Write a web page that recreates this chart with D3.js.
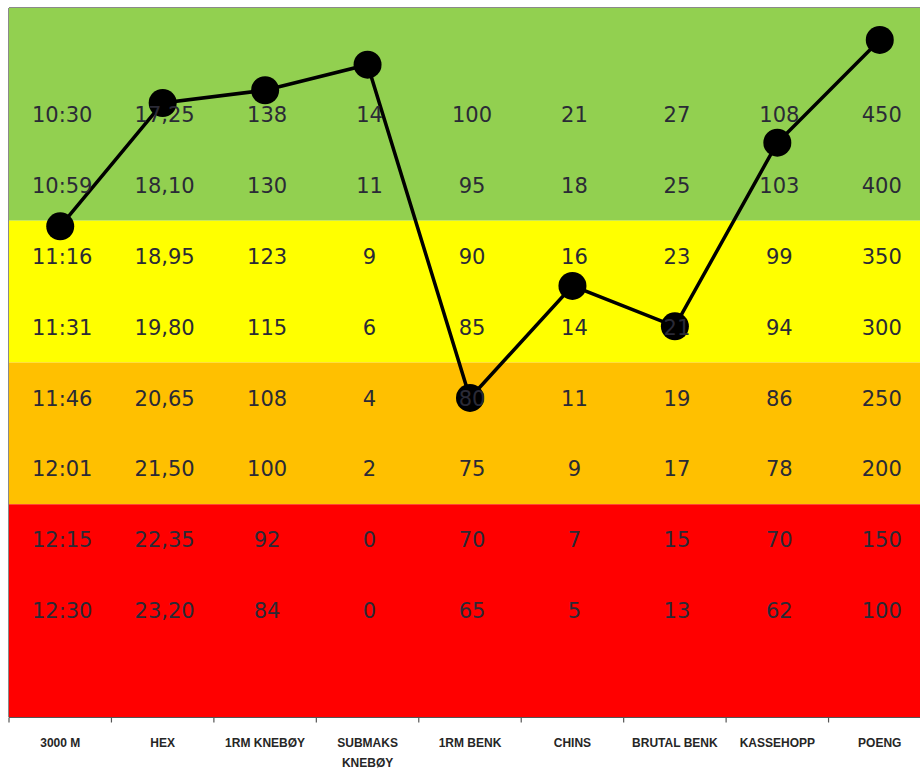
<!DOCTYPE html>
<html>
<head>
<meta charset="utf-8">
<script src="https://cdn.jsdelivr.net/npm/d3@7"></script>
<style>
  body { margin: 0; background: #fff; overflow: hidden; }
</style>
</head>
<body>
<svg id="chart"></svg>
<script>
// categories along the bottom
const categories = ["3000 M", "HEX", "1RM KNEBØY", "SUBMAKS KNEBØY", "1RM BENK", "CHINS", "BRUTAL BENK", "KASSEHOPP", "POENG"];

// score table, one column per category (top row first)
const col3000 = ["10:30", "10:59", "11:16", "11:31", "11:46", "12:01", "12:15", "12:30"];
const colHex = ["17,25", "18,10", "18,95", "19,80", "20,65", "21,50", "22,35", "23,20"];
const colKneboy = ["138", "130", "123", "115", "108", "100", "92", "84"];
const colSubmaks = ["14", "11", "9", "6", "4", "2", "0", "0"];
const colBenk = ["100", "95", "90", "85", "80", "75", "70", "65"];
const colChins = ["21", "18", "16", "14", "11", "9", "7", "5"];
const colBrutal = ["27", "25", "23", "21", "19", "17", "15", "13"];
const colKasse = ["108", "103", "99", "94", "86", "78", "70", "62"];
const colPoeng = ["450", "400", "350", "300", "250", "200", "150", "100"];
const columns = [col3000, colHex, colKneboy, colSubmaks, colBenk, colChins, colBrutal, colKasse, colPoeng];

// row levels of the table (top row = 8.5)
const rowLevels = [8.5, 7.5, 6.5, 5.5, 4.5, 3.5, 2.5, 1.5];

// colour zones on the level scale
const zones = [
    { from: 7, to: 10, color: "#92d050" },
    { from: 5, to: 7, color: "#ffff00" },
    { from: 3, to: 5, color: "#ffc000" },
    { from: 0, to: 3, color: "#ff0000" }
];

// result line, level per category
const results = [6.92, 8.66, 8.84, 9.2, 4.5, 6.08, 5.51, 8.1, 9.55];

const width = 920, height = 769;
const plot = { left: 9, right: 931, top: 8, bottom: 717 };

const svg = d3.select("#chart")
    .attr("width", width)
    .attr("height", height);

const x = d3.scaleBand()
    .domain(categories)
    .range([plot.left, plot.right])
    .padding(0);

const y = d3.scaleLinear()
    .domain([0, 10])
    .range([plot.bottom, plot.top]);

// zones
svg.selectAll(".zone")
    .data(zones)
    .enter()
    .append("rect")
    .attr("class", "zone")
    .attr("x", plot.left)
    .attr("y", d => y(d.to))
    .attr("width", plot.right - plot.left)
    .attr("height", d => y(d.from) - y(d.to))
    .attr("fill", d => d.color);

// frame top and left
svg.append("line")
    .attr("x1", plot.left).attr("x2", plot.right)
    .attr("y1", plot.top - 0.5).attr("y2", plot.top - 0.5)
    .attr("stroke", "#8a8a8a").attr("stroke-width", 1);
svg.append("line")
    .attr("x1", plot.left - 0.5).attr("x2", plot.left - 0.5)
    .attr("y1", plot.top).attr("y2", plot.bottom)
    .attr("stroke", "#8a8a8a").attr("stroke-width", 1);

// line + points
const line = d3.line()
    .x((d, i) => x(categories[i]) + x.bandwidth() / 2)
    .y(d => y(d));

svg.append("path")
    .datum(results)
    .attr("d", line)
    .attr("fill", "none")
    .attr("stroke", "#000")
    .attr("stroke-width", 3.5);

svg.selectAll(".dot")
    .data(results)
    .enter()
    .append("circle")
    .attr("class", "dot")
    .attr("cx", (d, i) => x(categories[i]) + x.bandwidth() / 2)
    .attr("cy", d => y(d))
    .attr("r", 14)
    .attr("fill", "#000");

// table text
const cells = columns.flatMap((col, ci) =>
    col.map((txt, ri) => ({ cat: categories[ci], level: rowLevels[ri], txt })));

svg.selectAll(".cell")
    .data(cells)
    .enter()
    .append("text")
    .attr("class", "cell")
    .attr("x", d => x(d.cat) + x.bandwidth() / 2 + 2)
    .attr("y", d => y(d.level))
    .attr("dy", "0.36em")
    .attr("text-anchor", "middle")
    .style("font-family", "'DejaVu Sans', sans-serif")
    .style("font-size", "21px")
    .style("fill", "#2a2a36")
    .text(d => d.txt);

// x axis
const axis = svg.append("g")
    .attr("transform", `translate(0,${plot.bottom + 0.5})`);

axis.append("line")
    .attr("x1", plot.left).attr("x2", plot.right)
    .attr("stroke", "#555").attr("stroke-width", 1.2);

axis.selectAll(".tick-mark")
    .data(categories)
    .enter()
    .append("line")
    .attr("class", "tick-mark")
    .attr("x1", d => x(d)).attr("x2", d => x(d))
    .attr("y1", 0).attr("y2", 5)
    .attr("stroke", "#555").attr("stroke-width", 1.2);

const labels = axis.selectAll(".lbl")
    .data(categories)
    .enter()
    .append("text")
    .attr("class", "lbl")
    .attr("x", d => x(d) + x.bandwidth() / 2)
    .attr("y", 29)
    .attr("text-anchor", "middle")
    .style("font-family", "'Liberation Sans', Arial, sans-serif")
    .style("font-weight", "bold")
    .style("font-size", "12px")
    .style("fill", "#262626");

labels.each(function (d) {
    const words = d === "SUBMAKS KNEBØY" ? ["SUBMAKS", "KNEBØY"] : [d];
    d3.select(this).selectAll("tspan")
        .data(words)
        .enter()
        .append("tspan")
        .attr("x", x(d) + x.bandwidth() / 2)
        .attr("dy", (w, i) => i === 0 ? 0 : 20)
        .text(w => w);
});
</script>
</body>
</html>
